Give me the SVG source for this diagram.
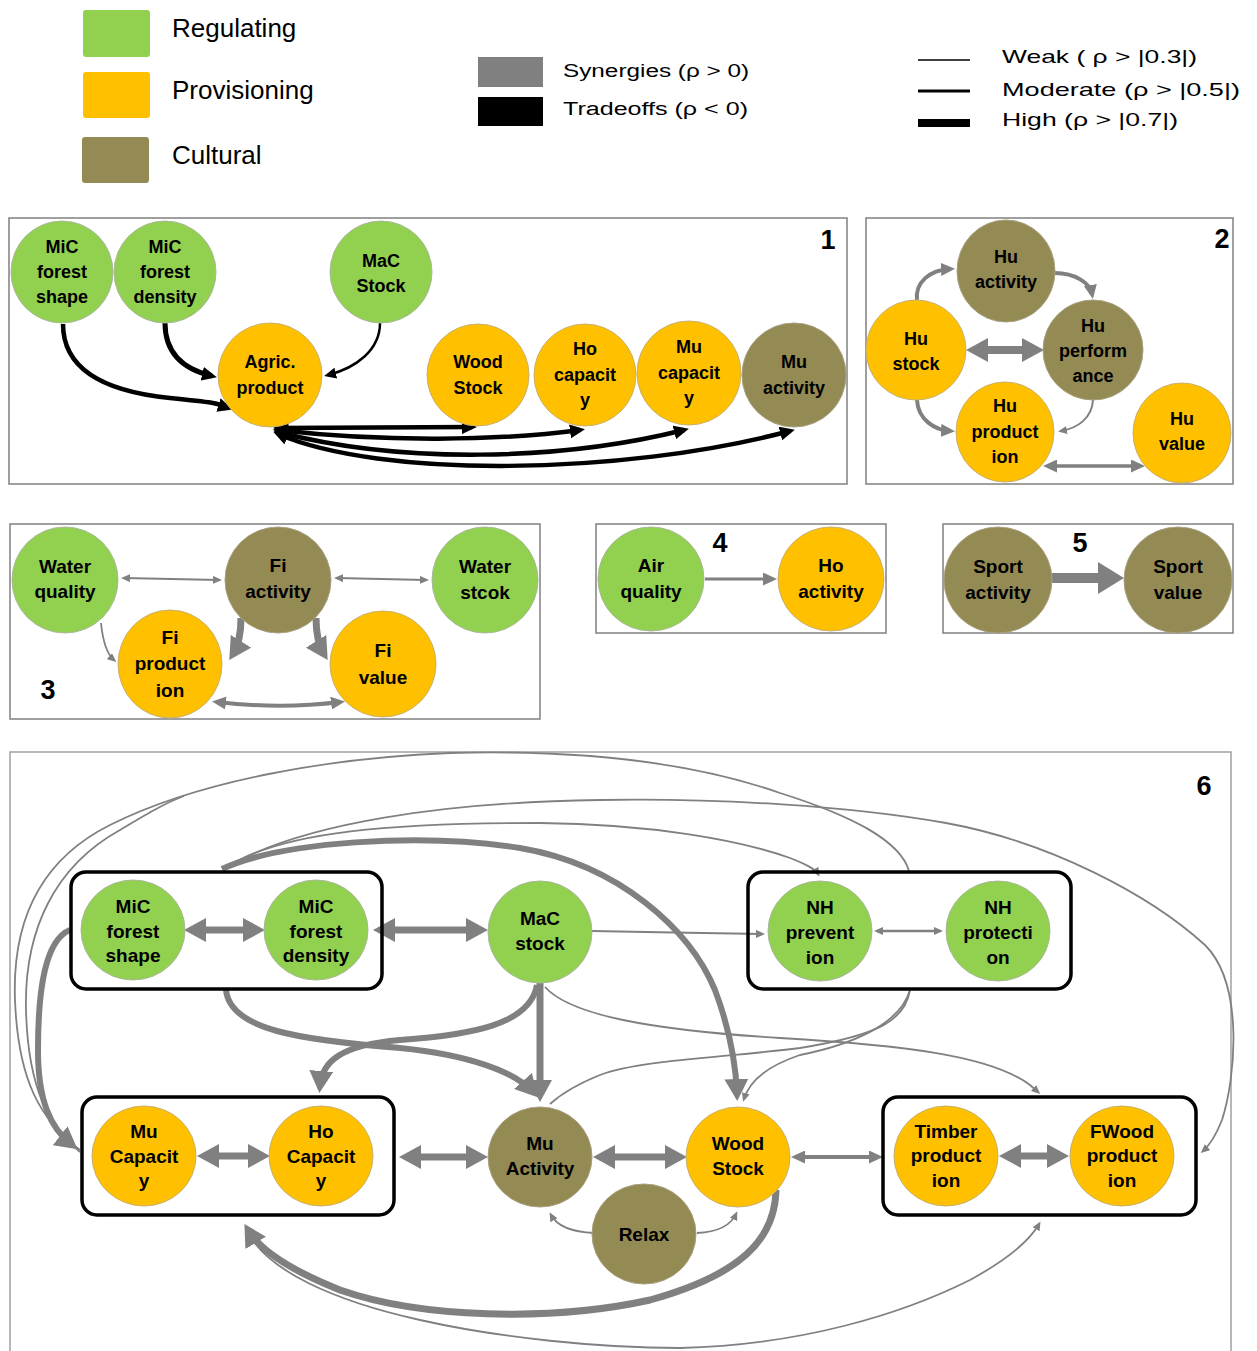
<svg xmlns="http://www.w3.org/2000/svg" width="1257" height="1351" viewBox="0 0 1257 1351">
<style>
.lg{font-family:"Liberation Sans",Arial,sans-serif;fill:#000}
.t{font-family:"Liberation Sans",Arial,sans-serif;font-weight:bold;font-size:18px;text-anchor:middle;fill:#000}
.t6{font-family:"Liberation Sans",Arial,sans-serif;font-weight:bold;font-size:19px;text-anchor:middle;fill:#000}
.num{font-family:"Liberation Sans",Arial,sans-serif;font-weight:bold;font-size:27px;text-anchor:middle;fill:#000}
.g{fill:#92D050;stroke:#a9b89a;stroke-width:1}
.o{fill:#FFC000;stroke:#c8b070;stroke-width:1}
.c{fill:#948A54;stroke:#a8a080;stroke-width:1}
.panel{fill:none;stroke:#808080;stroke-width:1.5}
.box{fill:none;stroke:#000;stroke-width:3.5}
.ga{fill:none;stroke:#808080}
.ka{fill:none;stroke:#000}
</style>
<defs>
<marker id="gT" markerUnits="userSpaceOnUse" markerWidth="22" markerHeight="24" viewBox="0 0 22 24" refX="15" refY="12" orient="auto-start-reverse"><path d="M0,0 L22,12 L0,24 z" fill="#808080"/></marker>
<marker id="gM" markerUnits="userSpaceOnUse" markerWidth="14" markerHeight="13" viewBox="0 0 14 13" refX="9" refY="6.5" orient="auto-start-reverse"><path d="M0,0 L14,6.5 L0,13 z" fill="#808080"/></marker>
<marker id="gS" markerUnits="userSpaceOnUse" markerWidth="9" markerHeight="8" viewBox="0 0 9 8" refX="6" refY="4" orient="auto-start-reverse"><path d="M0,0 L9,4 L0,8 z" fill="#808080"/></marker>
<marker id="gX" markerUnits="userSpaceOnUse" markerWidth="26" markerHeight="32" viewBox="0 0 26 32" refX="18" refY="16" orient="auto-start-reverse"><path d="M0,0 L26,16 L0,32 z" fill="#808080"/></marker>
<marker id="kM" markerUnits="userSpaceOnUse" markerWidth="12" markerHeight="11" viewBox="0 0 12 11" refX="8" refY="5.5" orient="auto-start-reverse"><path d="M0,0 L12,5.5 L0,11 z" fill="#000"/></marker>
<marker id="kT" markerUnits="userSpaceOnUse" markerWidth="15" markerHeight="14" viewBox="0 0 15 14" refX="10" refY="7" orient="auto-start-reverse"><path d="M0,0 L15,7 L0,14 z" fill="#000"/></marker>
</defs>
<rect width="1257" height="1351" fill="#fff"/>

<g id="legend">
<rect x="83" y="10" width="67" height="47" rx="3" fill="#92D050"/>
<rect x="83" y="72" width="67" height="46" rx="3" fill="#FFC000"/>
<rect x="82" y="137" width="67" height="46" rx="3" fill="#948A54"/>
<text class="lg" x="172" y="37" font-size="26">Regulating</text>
<text class="lg" x="172" y="99" font-size="26">Provisioning</text>
<text class="lg" x="172" y="164" font-size="26">Cultural</text>
<rect x="478" y="57" width="65" height="30" fill="#808080"/>
<rect x="478" y="97" width="65" height="29" fill="#000"/>
<text class="lg" x="563" y="77" font-size="18" textLength="186" lengthAdjust="spacingAndGlyphs">Synergies (ρ &gt; 0)</text>
<text class="lg" x="563" y="115" font-size="18" textLength="185" lengthAdjust="spacingAndGlyphs">Tradeoffs (ρ &lt; 0)</text>
<line x1="918" y1="60" x2="970" y2="60" stroke="#000" stroke-width="1.5"/>
<line x1="918" y1="91" x2="970" y2="91" stroke="#000" stroke-width="3"/>
<line x1="918" y1="123" x2="970" y2="123" stroke="#000" stroke-width="8"/>
<text class="lg" x="1002" y="63" font-size="19" textLength="195" lengthAdjust="spacingAndGlyphs">Weak ( ρ &gt; |0.3|)</text>
<text class="lg" x="1002" y="96" font-size="19" textLength="238" lengthAdjust="spacingAndGlyphs">Moderate (ρ &gt; |0.5|)</text>
<text class="lg" x="1002" y="126" font-size="19" textLength="176" lengthAdjust="spacingAndGlyphs">High (ρ &gt; |0.7|)</text>
</g>

<g id="panels">
<rect class="panel" x="9" y="218" width="838" height="266"/>
<rect class="panel" x="866" y="218" width="367" height="266"/>
<rect class="panel" x="10" y="524" width="530" height="195"/>
<rect class="panel" x="596" y="524" width="290" height="109"/>
<rect class="panel" x="943" y="524" width="290" height="109"/>
<rect x="10" y="752" width="1221" height="620" fill="none" stroke="#a0a0a0" stroke-width="1.5"/>
<text class="num" x="828" y="249">1</text>
<text class="num" x="1222" y="248">2</text>
<text class="num" x="48" y="699">3</text>
<text class="num" x="720" y="552">4</text>
<text class="num" x="1080" y="552">5</text>
<text class="num" x="1204" y="795">6</text>
</g>

<g id="connectors">
<!-- panel 1 -->
<path class="ka" stroke-width="4.5" marker-end="url(#kT)" d="M63,324 C63,372 110,392 170,398 S215,404 228,408"/>
<path class="ka" stroke-width="5" marker-end="url(#kT)" d="M165,323 C165,352 182,369 212,376"/>
<path class="ka" stroke-width="2.5" marker-end="url(#kM)" d="M380,323 C380,350 356,368 328,375"/>
<path class="ka" stroke-width="4.5" marker-start="url(#kT)" marker-end="url(#kT)" d="M278,428 L472,427"/>
<path class="ka" stroke-width="4.5" marker-start="url(#kT)" marker-end="url(#kT)" d="M278,430 C380,442 500,441 580,430"/>
<path class="ka" stroke-width="4.5" marker-start="url(#kT)" marker-end="url(#kT)" d="M278,432 C400,464 560,461 684,430"/>
<path class="ka" stroke-width="4.5" marker-start="url(#kT)" marker-end="url(#kT)" d="M278,434 C380,478 620,476 790,431"/>
<!-- panel 2 -->
<path class="ga" stroke-width="4" marker-end="url(#gM)" d="M917,300 C915,282 930,270 950,269"/>
<path class="ga" stroke-width="4" marker-end="url(#gM)" d="M1055,273 C1075,273 1090,283 1092,294"/>
<path class="ga" stroke-width="8" marker-start="url(#gT)" marker-end="url(#gT)" d="M973,350 L1037,350"/>
<path class="ga" stroke-width="4" marker-end="url(#gM)" d="M917,400 C918,420 935,430 950,431"/>
<path class="ga" stroke-width="2" marker-end="url(#gS)" d="M1093,400 C1092,418 1078,428 1061,431"/>
<path class="ga" stroke-width="3.5" marker-start="url(#gM)" marker-end="url(#gM)" d="M1048,466 L1140,466"/>
<!-- panel 3 -->
<path class="ga" stroke-width="1.8" marker-start="url(#gS)" marker-end="url(#gS)" d="M124,578 L219,580"/>
<path class="ga" stroke-width="1.8" marker-start="url(#gS)" marker-end="url(#gS)" d="M337,578 L426,580"/>
<path class="ga" stroke-width="1.8" marker-end="url(#gS)" d="M101,623 C103,643 108,655 114,660"/>
<path class="ga" stroke-width="7" marker-end="url(#gT)" d="M241,618 C241,636 238,646 233,654"/>
<path class="ga" stroke-width="7" marker-end="url(#gT)" d="M316,618 C316,636 319,646 324,654"/>
<path class="ga" stroke-width="4" marker-start="url(#gM)" marker-end="url(#gM)" d="M217,702 C260,707 300,707 340,702"/>
<!-- panel 4, 5 -->
<path class="ga" stroke-width="3" marker-end="url(#gM)" d="M705,579 L772,579"/>
<path class="ga" stroke-width="10" marker-end="url(#gX)" d="M1052,578 L1116,578"/>
<!-- panel 6 thin -->
<path class="ga" stroke-width="1.8" d="M80,1150 C40,1120 18,1080 15,1000 C12,920 40,860 110,825 C200,780 330,758 450,753 C560,750 680,758 780,793 C850,815 900,840 909,871"/>
<path class="ga" stroke-width="1.8" d="M80,1152 C50,1128 28,1090 26,1010 C24,930 55,866 120,830 C145,815 165,803 184,796"/>
<path class="ga" stroke-width="1.8" marker-end="url(#gS)" d="M224,869 C300,822 450,802 600,800 C720,798 850,806 946,823 C1050,842 1150,895 1205,945 C1245,985 1235,1080 1222,1120 C1216,1135 1210,1145 1203,1151"/>
<path class="ga" stroke-width="1.8" marker-end="url(#gS)" d="M224,869 C280,830 400,823 540,823 C650,824 740,840 790,858 C808,865 815,869 818,874"/>
<path class="ga" stroke-width="1.8" d="M910,990 C905,1020 880,1035 800,1048 C720,1058 640,1060 600,1075 C575,1085 560,1095 550,1104"/>
<path class="ga" stroke-width="1.8" marker-end="url(#gS)" d="M910,990 C900,1025 850,1045 800,1055 C770,1065 750,1080 744,1099"/>
<path class="ga" stroke-width="1.8" marker-end="url(#gS)" d="M545,987 C570,1015 650,1030 780,1038 C900,1045 990,1055 1030,1085 L1038,1092"/>
<path class="ga" stroke-width="1.8" marker-end="url(#gS)" d="M250,1236 C270,1270 330,1300 420,1320 C500,1338 600,1348 680,1348 C800,1345 900,1315 970,1280 C1010,1258 1030,1240 1039,1224"/>
<path class="ga" stroke-width="1.8" marker-end="url(#gS)" d="M594,1233 C572,1232 557,1226 551,1215"/>
<path class="ga" stroke-width="1.8" marker-end="url(#gS)" d="M697,1233 C718,1232 731,1225 736,1214"/>
<path class="ga" stroke-width="2" marker-end="url(#gS)" d="M592,931 C650,932 700,933 762,934"/>
<path class="ga" stroke-width="2.5" marker-start="url(#gS)" marker-end="url(#gS)" d="M877,931 L940,931"/>
<!-- panel 6 thick -->
<path class="ga" stroke-width="6" marker-end="url(#gT)" d="M70,930 C45,940 38,990 38,1050 C38,1100 50,1128 72,1145"/>
<path class="ga" stroke-width="6" marker-end="url(#gT)" d="M222,869 C280,842 420,832 520,848 C620,865 690,930 715,990 C730,1030 736,1068 737,1094"/>
<path class="ga" stroke-width="6" marker-end="url(#gT)" d="M226,990 C230,1030 300,1040 400,1048 C470,1055 515,1072 533,1092"/>
<path class="ga" stroke-width="6" marker-end="url(#gT)" d="M537,985 C530,1025 470,1035 400,1040 C340,1045 322,1062 320,1086"/>
<path class="ga" stroke-width="7" marker-end="url(#gT)" d="M540,983 L540,1095"/>
<path class="ga" stroke-width="7" marker-end="url(#gT)" d="M776,1190 C775,1240 740,1275 650,1300 C550,1322 420,1318 340,1290 C290,1270 260,1250 248,1230"/>
<path class="ga" stroke-width="7" marker-start="url(#gT)" marker-end="url(#gT)" d="M191,930 L258,930"/>
<path class="ga" stroke-width="7" marker-start="url(#gT)" marker-end="url(#gT)" d="M380,930 L481,930"/>
<path class="ga" stroke-width="7" marker-start="url(#gT)" marker-end="url(#gT)" d="M204,1156 L263,1156"/>
<path class="ga" stroke-width="7" marker-start="url(#gT)" marker-end="url(#gT)" d="M406,1157 L481,1157"/>
<path class="ga" stroke-width="7" marker-start="url(#gT)" marker-end="url(#gT)" d="M600,1157 L680,1157"/>
<path class="ga" stroke-width="4" marker-start="url(#gM)" marker-end="url(#gM)" d="M796,1157 L878,1157"/>
<path class="ga" stroke-width="7" marker-start="url(#gT)" marker-end="url(#gT)" d="M1006,1156 L1062,1156"/>
</g>

<!-- panel 1 nodes -->
<g id="p1-mic-shape"><circle class="g" cx="62" cy="272" r="51"/><text class="t" x="62" y="253">MiC</text><text class="t" x="62" y="278">forest</text><text class="t" x="62" y="303">shape</text></g>
<g id="p1-mic-density"><circle class="g" cx="165" cy="272" r="51"/><text class="t" x="165" y="253">MiC</text><text class="t" x="165" y="278">forest</text><text class="t" x="165" y="303">density</text></g>
<g id="p1-mac-stock"><circle class="g" cx="381" cy="272" r="51"/><text class="t" x="381" y="267">MaC</text><text class="t" x="381" y="292">Stock</text></g>
<g id="p1-agric"><circle class="o" cx="270" cy="375" r="52"/><text class="t" x="270" y="368">Agric.</text><text class="t" x="270" y="394">product</text></g>
<g id="p1-wood"><circle class="o" cx="478" cy="375" r="51"/><text class="t" x="478" y="368">Wood</text><text class="t" x="478" y="394">Stock</text></g>
<g id="p1-ho-cap"><circle class="o" cx="585" cy="375" r="51"/><text class="t" x="585" y="355">Ho</text><text class="t" x="585" y="381">capacit</text><text class="t" x="585" y="406">y</text></g>
<g id="p1-mu-cap"><circle class="o" cx="689" cy="373" r="52"/><text class="t" x="689" y="353">Mu</text><text class="t" x="689" y="379">capacit</text><text class="t" x="689" y="404">y</text></g>
<g id="p1-mu-act"><circle class="c" cx="794" cy="375" r="52"/><text class="t" x="794" y="368">Mu</text><text class="t" x="794" y="394">activity</text></g>

<!-- panel 2 nodes -->
<g id="p2-hu-activity"><ellipse class="c" cx="1006" cy="271" rx="49" ry="51"/><text class="t" x="1006" y="263">Hu</text><text class="t" x="1006" y="288">activity</text></g>
<g id="p2-hu-stock"><circle class="o" cx="916" cy="350" r="50"/><text class="t" x="916" y="345">Hu</text><text class="t" x="916" y="370">stock</text></g>
<g id="p2-hu-perf"><circle class="c" cx="1093" cy="350" r="50"/><text class="t" x="1093" y="332">Hu</text><text class="t" x="1093" y="357">perform</text><text class="t" x="1093" y="382">ance</text></g>
<g id="p2-hu-prod"><ellipse class="o" cx="1005" cy="432" rx="49" ry="50"/><text class="t" x="1005" y="412">Hu</text><text class="t" x="1005" y="438">product</text><text class="t" x="1005" y="463">ion</text></g>
<g id="p2-hu-value"><ellipse class="o" cx="1182" cy="433" rx="49" ry="50"/><text class="t" x="1182" y="425">Hu</text><text class="t" x="1182" y="450">value</text></g>

<!-- panel 3 nodes -->
<g id="p3-water-quality"><ellipse class="g" cx="65" cy="580" rx="53" ry="53"/><text class="t6" x="65" y="573">Water</text><text class="t6" x="65" y="598">quality</text></g>
<g id="p3-fi-activity"><ellipse class="c" cx="278" cy="580" rx="53" ry="53"/><text class="t6" x="278" y="572">Fi</text><text class="t6" x="278" y="598">activity</text></g>
<g id="p3-water-stcok"><ellipse class="g" cx="485" cy="580" rx="53" ry="53"/><text class="t6" x="485" y="573">Water</text><text class="t6" x="485" y="599">stcok</text></g>
<g id="p3-fi-prod"><ellipse class="o" cx="170" cy="664" rx="52" ry="54"/><text class="t6" x="170" y="644">Fi</text><text class="t6" x="170" y="670">product</text><text class="t6" x="170" y="697">ion</text></g>
<g id="p3-fi-value"><ellipse class="o" cx="383" cy="664" rx="53" ry="53"/><text class="t6" x="383" y="657">Fi</text><text class="t6" x="383" y="684">value</text></g>

<!-- panel 4 / 5 nodes -->
<g id="p4-air"><ellipse class="g" cx="651" cy="579" rx="53" ry="52"/><text class="t6" x="651" y="572">Air</text><text class="t6" x="651" y="598">quality</text></g>
<g id="p4-ho-activity"><ellipse class="o" cx="831" cy="579" rx="53" ry="52"/><text class="t6" x="831" y="572">Ho</text><text class="t6" x="831" y="598">activity</text></g>
<g id="p5-sport-activity"><ellipse class="c" cx="998" cy="580" rx="54" ry="53"/><text class="t6" x="998" y="573">Sport</text><text class="t6" x="998" y="599">activity</text></g>
<g id="p5-sport-value"><ellipse class="c" cx="1178" cy="580" rx="54" ry="53"/><text class="t6" x="1178" y="573">Sport</text><text class="t6" x="1178" y="599">value</text></g>

<!-- panel 6 group boxes -->
<g id="p6-box-mic"><rect class="box" x="71" y="872" width="311" height="117" rx="15"/></g>
<g id="p6-box-nh"><rect class="box" x="748" y="872" width="323" height="117" rx="15"/></g>
<g id="p6-box-cap"><rect class="box" x="82" y="1097" width="312" height="118" rx="15"/></g>
<g id="p6-box-wood"><rect class="box" x="883" y="1097" width="313" height="118" rx="15"/></g>

<!-- panel 6 nodes -->
<g id="p6-mic-shape"><ellipse class="g" cx="133" cy="930" rx="52" ry="50"/><text class="t6" x="133" y="913">MiC</text><text class="t6" x="133" y="938">forest</text><text class="t6" x="133" y="962">shape</text></g>
<g id="p6-mic-density"><ellipse class="g" cx="316" cy="930" rx="52" ry="50"/><text class="t6" x="316" y="913">MiC</text><text class="t6" x="316" y="938">forest</text><text class="t6" x="316" y="962">density</text></g>
<g id="p6-mac-stock"><ellipse class="g" cx="540" cy="932" rx="52" ry="51"/><text class="t6" x="540" y="925">MaC</text><text class="t6" x="540" y="950">stock</text></g>
<g id="p6-nh-prevention"><ellipse class="g" cx="820" cy="931" rx="52" ry="50"/><text class="t6" x="820" y="914">NH</text><text class="t6" x="820" y="939">prevent</text><text class="t6" x="820" y="964">ion</text></g>
<g id="p6-nh-protection"><ellipse class="g" cx="998" cy="931" rx="52" ry="50"/><text class="t6" x="998" y="914">NH</text><text class="t6" x="998" y="939">protecti</text><text class="t6" x="998" y="964">on</text></g>
<g id="p6-mu-capacity"><ellipse class="o" cx="144" cy="1156" rx="52" ry="50"/><text class="t6" x="144" y="1138">Mu</text><text class="t6" x="144" y="1163">Capacit</text><text class="t6" x="144" y="1187">y</text></g>
<g id="p6-ho-capacity"><ellipse class="o" cx="321" cy="1156" rx="52" ry="50"/><text class="t6" x="321" y="1138">Ho</text><text class="t6" x="321" y="1163">Capacit</text><text class="t6" x="321" y="1187">y</text></g>
<g id="p6-mu-activity"><ellipse class="c" cx="540" cy="1157" rx="52" ry="50"/><text class="t6" x="540" y="1150">Mu</text><text class="t6" x="540" y="1175">Activity</text></g>
<g id="p6-wood-stock"><ellipse class="o" cx="738" cy="1157" rx="52" ry="50"/><text class="t6" x="738" y="1150">Wood</text><text class="t6" x="738" y="1175">Stock</text></g>
<g id="p6-timber"><ellipse class="o" cx="946" cy="1156" rx="52" ry="50"/><text class="t6" x="946" y="1138">Timber</text><text class="t6" x="946" y="1162">product</text><text class="t6" x="946" y="1187">ion</text></g>
<g id="p6-fwood"><ellipse class="o" cx="1122" cy="1156" rx="52" ry="50"/><text class="t6" x="1122" y="1138">FWood</text><text class="t6" x="1122" y="1162">product</text><text class="t6" x="1122" y="1187">ion</text></g>
<g id="p6-relax"><ellipse class="c" cx="644" cy="1234" rx="52" ry="50"/><text class="t6" x="644" y="1241">Relax</text></g>
</svg>
